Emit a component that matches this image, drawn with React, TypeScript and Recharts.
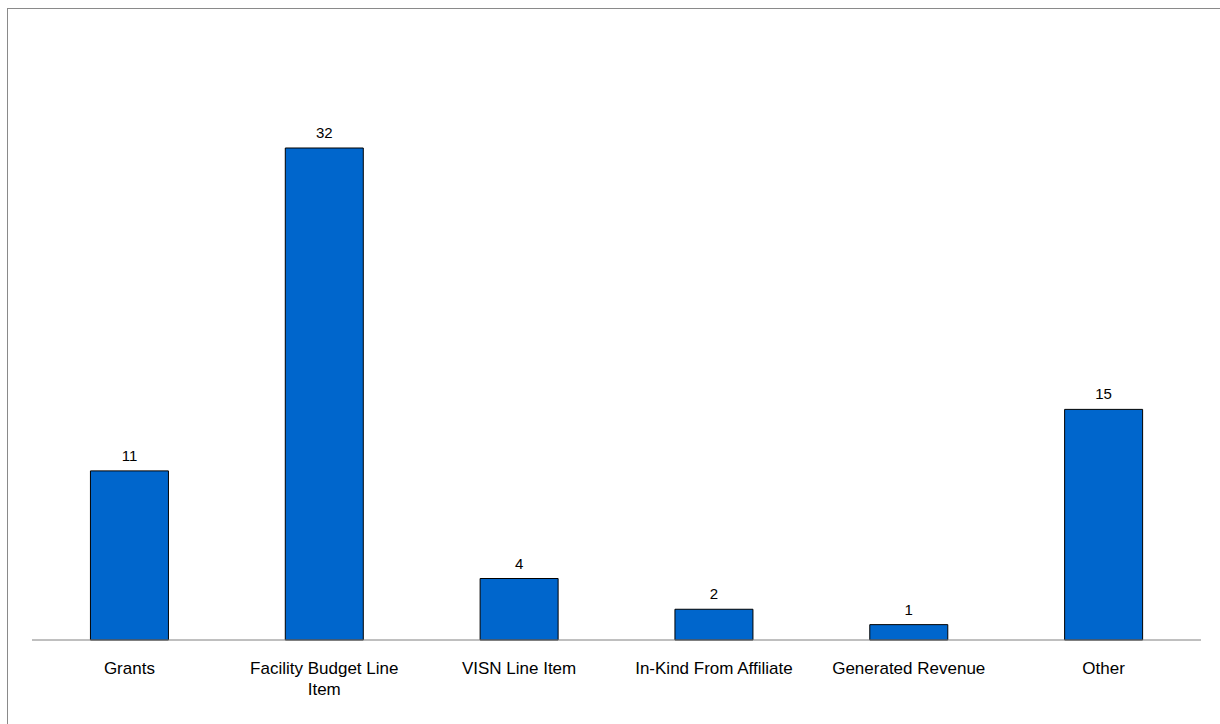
import React from "react";
import { BarChart, Bar, XAxis, YAxis, LabelList, Text } from "recharts";

const categories = [
	"Grants",
	"Facility Budget Line Item",
	"VISN Line Item",
	"In-Kind From Affiliate",
	"Generated Revenue",
	"Other",
];
const counts = [11, 32, 4, 2, 1, 15];

const data = categories.map((name, i) => ({ name, count: counts[i] }));

const font = "'Liberation Sans', Arial, sans-serif";

function CategoryTick(props: any) {
	const { x, y, payload } = props;
	return (
		<Text
			x={x}
			y={y + 14}
			width={170}
			textAnchor="middle"
			verticalAnchor="start"
			lineHeight={21}
			style={{ fontSize: 17, fontFamily: font }}
			fill="#000"
		>
			{payload.value}
		</Text>
	);
}

export default function App() {
	return (
		<div style={{ position: "fixed", inset: 0, overflow: "hidden", background: "#fff" }}>
			<div
				style={{
					position: "absolute",
					left: 7,
					top: 8,
					width: 1240,
					height: 740,
					border: "1px solid #8a8a8a",
				}}
			>
				<BarChart
					width={1212}
					height={715}
					data={data}
					margin={{ top: 16, right: 19, bottom: 0, left: 24 }}
					barCategoryGap="30%"
				>
					<YAxis hide domain={[0, 40]} />
					<XAxis
						dataKey="name"
						height={84}
						axisLine={{ stroke: "#808080", strokeWidth: 1 }}
						tickLine={false}
						interval={0}
						tick={<CategoryTick />}
					/>
					<Bar
						dataKey="count"
						fill="#0066CC"
						stroke="#000"
						strokeWidth={1}
						isAnimationActive={false}
					>
						<LabelList
							dataKey="count"
							position="top"
							offset={10}
							fontSize={15}
							fontFamily={font}
							fill="#000"
						/>
					</Bar>
				</BarChart>
			</div>
		</div>
	);
}
